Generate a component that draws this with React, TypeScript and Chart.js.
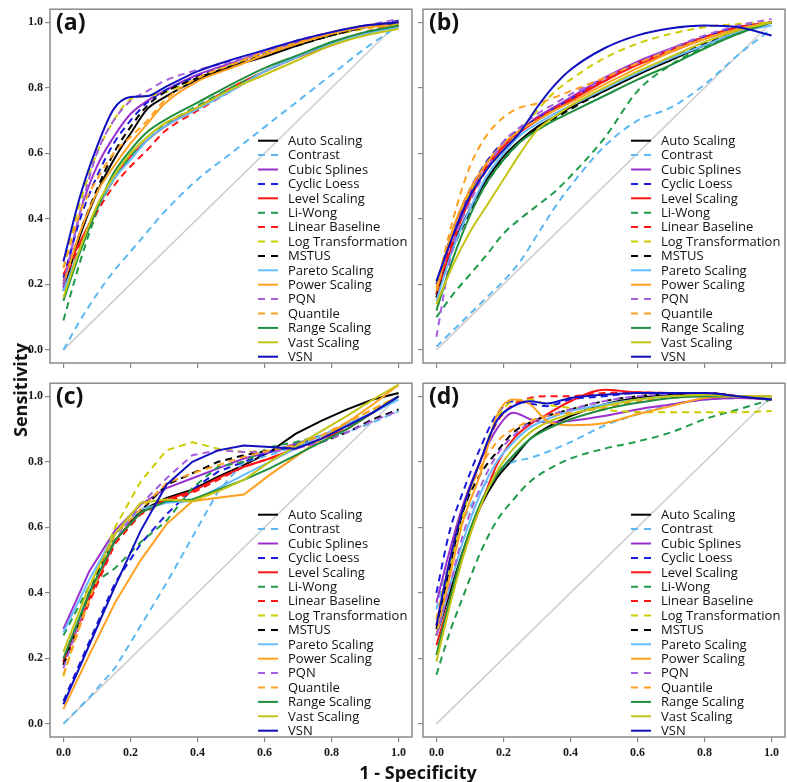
import React, { useEffect, useRef } from 'react';
import { Chart, registerables } from 'chart.js';
Chart.register(...registerables);

const NAMES = ['Auto Scaling', 'Contrast', 'Cubic Splines', 'Cyclic Loess', 'Level Scaling', 'Li-Wong', 'Linear Baseline', 'Log Transformation', 'MSTUS', 'Pareto Scaling', 'Power Scaling', 'PQN', 'Quantile', 'Range Scaling', 'Vast Scaling', 'VSN'];
const COLORS = ['#000000', '#5cb8f2', '#9b30d0', '#1a1ae0', '#ff1414', '#1f9a4a', '#ff1414', '#cccc00', '#000000', '#66bbff', '#ffa020', '#a560e0', '#ffa020', '#1f8f3f', '#c4c414', '#1010c0'];
const DASHED = [false, true, false, true, false, true, true, true, true, false, false, true, true, false, false, false];

const TICKS = [0, 0.2, 0.4, 0.6, 0.8, 1.0];

// Panel (a)
const xA = [0, 0.05, 0.1, 0.15, 0.2, 0.25, 0.3, 0.4, 0.5, 0.6, 0.7, 0.8, 0.9, 1.0];
const yA: number[][] = [
  [0.18, 0.35, 0.48, 0.58, 0.66, 0.735, 0.77, 0.825, 0.865, 0.895, 0.93, 0.96, 0.985, 1.0],
  [0.0, 0.09, 0.17, 0.24, 0.30, 0.36, 0.42, 0.52, 0.60, 0.68, 0.76, 0.84, 0.92, 0.99],
  [0.19, 0.42, 0.56, 0.65, 0.72, 0.76, 0.79, 0.84, 0.875, 0.91, 0.94, 0.965, 0.985, 1.0],
  [0.22, 0.40, 0.53, 0.63, 0.70, 0.755, 0.79, 0.835, 0.87, 0.905, 0.935, 0.965, 0.985, 1.005],
  [0.23, 0.33, 0.43, 0.52, 0.59, 0.64, 0.68, 0.74, 0.80, 0.85, 0.895, 0.93, 0.965, 0.99],
  [0.09, 0.27, 0.42, 0.52, 0.59, 0.64, 0.685, 0.745, 0.80, 0.85, 0.895, 0.935, 0.965, 0.99],
  [0.21, 0.32, 0.42, 0.50, 0.56, 0.61, 0.665, 0.73, 0.79, 0.85, 0.895, 0.935, 0.97, 0.995],
  [0.25, 0.45, 0.60, 0.70, 0.765, 0.775, 0.785, 0.83, 0.87, 0.905, 0.935, 0.96, 0.98, 0.995],
  [0.20, 0.36, 0.49, 0.60, 0.68, 0.745, 0.785, 0.83, 0.865, 0.90, 0.93, 0.96, 0.985, 1.0],
  [0.18, 0.31, 0.43, 0.52, 0.58, 0.64, 0.68, 0.735, 0.79, 0.85, 0.895, 0.935, 0.965, 0.985],
  [0.20, 0.36, 0.48, 0.56, 0.63, 0.69, 0.75, 0.82, 0.86, 0.90, 0.935, 0.965, 0.985, 0.99],
  [0.20, 0.42, 0.60, 0.70, 0.76, 0.79, 0.82, 0.855, 0.88, 0.91, 0.945, 0.97, 0.99, 1.01],
  [0.25, 0.42, 0.52, 0.60, 0.65, 0.70, 0.76, 0.83, 0.87, 0.91, 0.94, 0.97, 0.99, 1.0],
  [0.15, 0.30, 0.43, 0.54, 0.61, 0.665, 0.70, 0.755, 0.81, 0.86, 0.90, 0.94, 0.97, 0.99],
  [0.16, 0.31, 0.44, 0.53, 0.60, 0.65, 0.69, 0.74, 0.795, 0.84, 0.885, 0.93, 0.96, 0.98],
  [0.27, 0.47, 0.62, 0.735, 0.772, 0.775, 0.80, 0.85, 0.885, 0.915, 0.945, 0.97, 0.99, 1.0],
];

// Panel (b)
const xB = [0, 0.05, 0.1, 0.15, 0.2, 0.25, 0.3, 0.35, 0.4, 0.5, 0.6, 0.7, 0.8, 0.9, 1.0];
const yB: number[][] = [
  [0.17, 0.32, 0.43, 0.52, 0.59, 0.64, 0.68, 0.71, 0.74, 0.79, 0.84, 0.885, 0.93, 0.97, 1.0],
  [0.01, 0.06, 0.11, 0.16, 0.21, 0.27, 0.35, 0.43, 0.50, 0.62, 0.70, 0.74, 0.81, 0.90, 0.98],
  [0.17, 0.36, 0.48, 0.57, 0.63, 0.67, 0.71, 0.74, 0.77, 0.83, 0.88, 0.92, 0.955, 0.985, 1.0],
  [0.20, 0.37, 0.49, 0.575, 0.635, 0.675, 0.705, 0.735, 0.765, 0.82, 0.875, 0.915, 0.955, 0.985, 1.0],
  [0.16, 0.33, 0.46, 0.555, 0.62, 0.665, 0.70, 0.73, 0.76, 0.82, 0.87, 0.91, 0.95, 0.98, 1.0],
  [0.10, 0.17, 0.23, 0.29, 0.355, 0.40, 0.44, 0.48, 0.53, 0.645, 0.79, 0.87, 0.925, 0.965, 1.0],
  [0.17, 0.34, 0.465, 0.56, 0.625, 0.67, 0.705, 0.735, 0.765, 0.825, 0.875, 0.915, 0.955, 0.985, 1.0],
  [0.18, 0.37, 0.48, 0.55, 0.61, 0.67, 0.73, 0.785, 0.825, 0.89, 0.935, 0.965, 0.985, 0.995, 1.0],
  [0.16, 0.31, 0.42, 0.51, 0.58, 0.635, 0.675, 0.705, 0.735, 0.79, 0.84, 0.89, 0.935, 0.975, 1.0],
  [0.15, 0.31, 0.43, 0.53, 0.60, 0.655, 0.69, 0.72, 0.745, 0.795, 0.845, 0.89, 0.93, 0.97, 0.99],
  [0.18, 0.37, 0.49, 0.57, 0.63, 0.67, 0.70, 0.73, 0.755, 0.81, 0.86, 0.91, 0.95, 0.98, 1.0],
  [0.04, 0.32, 0.45, 0.55, 0.635, 0.68, 0.72, 0.75, 0.78, 0.83, 0.875, 0.92, 0.96, 0.99, 1.01],
  [0.19, 0.40, 0.56, 0.655, 0.71, 0.74, 0.752, 0.77, 0.79, 0.83, 0.875, 0.915, 0.95, 0.98, 1.0],
  [0.12, 0.28, 0.41, 0.51, 0.58, 0.635, 0.67, 0.70, 0.725, 0.775, 0.825, 0.87, 0.92, 0.965, 1.0],
  [0.14, 0.26, 0.36, 0.44, 0.52, 0.60, 0.67, 0.71, 0.745, 0.80, 0.85, 0.895, 0.94, 0.975, 1.0],
  [0.21, 0.35, 0.47, 0.55, 0.61, 0.665, 0.74, 0.805, 0.855, 0.92, 0.96, 0.982, 0.99, 0.985, 0.96],
];

// Panel (c)
const xC = [0, 1 / 13, 2 / 13, 3 / 13, 4 / 13, 5 / 13, 6 / 13, 7 / 13, 8 / 13, 9 / 13, 10 / 13, 11 / 13, 12 / 13, 1];
const yC: number[][] = [
  [0.19, 0.39, 0.56, 0.65, 0.69, 0.715, 0.755, 0.79, 0.83, 0.885, 0.925, 0.96, 0.99, 1.01],
  [0.0, 0.08, 0.17, 0.30, 0.43, 0.57, 0.71, 0.80, 0.82, 0.85, 0.87, 0.89, 0.92, 0.955],
  [0.29, 0.465, 0.59, 0.67, 0.72, 0.75, 0.78, 0.81, 0.83, 0.855, 0.88, 0.91, 0.95, 1.0],
  [0.07, 0.25, 0.43, 0.55, 0.64, 0.715, 0.77, 0.80, 0.83, 0.85, 0.88, 0.91, 0.95, 1.0],
  [0.19, 0.38, 0.56, 0.645, 0.685, 0.71, 0.75, 0.785, 0.81, 0.84, 0.87, 0.90, 0.95, 1.0],
  [0.27, 0.42, 0.475, 0.555, 0.62, 0.72, 0.785, 0.80, 0.845, 0.86, 0.88, 0.91, 0.95, 1.0],
  [0.18, 0.37, 0.55, 0.64, 0.68, 0.705, 0.745, 0.785, 0.81, 0.84, 0.87, 0.91, 0.95, 1.0],
  [0.145, 0.40, 0.60, 0.74, 0.835, 0.86, 0.84, 0.83, 0.835, 0.85, 0.88, 0.92, 0.96, 1.0],
  [0.18, 0.40, 0.58, 0.65, 0.73, 0.765, 0.80, 0.82, 0.835, 0.845, 0.86, 0.89, 0.93, 0.96],
  [0.28, 0.44, 0.58, 0.655, 0.675, 0.68, 0.72, 0.76, 0.80, 0.84, 0.88, 0.915, 0.95, 0.99],
  [0.045, 0.21, 0.37, 0.50, 0.61, 0.68, 0.69, 0.70, 0.76, 0.815, 0.87, 0.92, 0.975, 1.035],
  [0.17, 0.40, 0.56, 0.67, 0.75, 0.82, 0.835, 0.83, 0.83, 0.84, 0.86, 0.89, 0.925, 0.955],
  [0.15, 0.38, 0.58, 0.655, 0.735, 0.765, 0.79, 0.815, 0.835, 0.85, 0.88, 0.92, 0.96, 1.0],
  [0.20, 0.40, 0.56, 0.645, 0.68, 0.685, 0.715, 0.745, 0.78, 0.82, 0.86, 0.90, 0.95, 1.0],
  [0.22, 0.42, 0.58, 0.675, 0.685, 0.68, 0.71, 0.745, 0.80, 0.847, 0.894, 0.94, 0.99, 1.036],
  [0.06, 0.24, 0.42, 0.59, 0.73, 0.80, 0.835, 0.85, 0.845, 0.84, 0.87, 0.91, 0.95, 1.0],
];

// Panel (d)
const xD = [0, 0.04, 0.08, 0.13, 0.18, 0.23, 0.28, 0.33, 0.4, 0.5, 0.6, 0.7, 0.8, 0.9, 1.0];
const yD: number[][] = [
  [0.27, 0.40, 0.53, 0.66, 0.75, 0.81, 0.87, 0.905, 0.94, 0.975, 0.995, 1.005, 1.01, 1.0, 0.99],
  [0.35, 0.50, 0.62, 0.71, 0.77, 0.80, 0.812, 0.83, 0.86, 0.91, 0.945, 0.975, 0.99, 0.995, 1.0],
  [0.37, 0.53, 0.67, 0.80, 0.90, 0.95, 0.93, 0.92, 0.925, 0.94, 0.96, 0.975, 0.99, 0.995, 0.99],
  [0.40, 0.59, 0.71, 0.84, 0.945, 0.985, 0.978, 0.97, 0.99, 1.0, 1.01, 1.01, 1.01, 1.0, 0.99],
  [0.24, 0.38, 0.52, 0.66, 0.79, 0.87, 0.915, 0.945, 0.985, 1.02, 1.012, 1.01, 1.01, 1.0, 0.99],
  [0.15, 0.28, 0.39, 0.52, 0.62, 0.685, 0.74, 0.775, 0.81, 0.84, 0.862, 0.89, 0.93, 0.96, 0.99],
  [0.30, 0.50, 0.66, 0.80, 0.92, 0.975, 0.995, 1.0, 1.0, 1.01, 1.012, 1.01, 1.01, 1.0, 0.99],
  [0.27, 0.47, 0.64, 0.80, 0.93, 0.985, 0.99, 0.975, 0.965, 0.958, 0.952, 0.951, 0.951, 0.951, 0.955],
  [0.29, 0.48, 0.65, 0.76, 0.83, 0.89, 0.92, 0.94, 0.96, 0.985, 1.0, 1.008, 1.01, 1.0, 0.99],
  [0.27, 0.42, 0.56, 0.70, 0.80, 0.86, 0.905, 0.93, 0.955, 0.975, 0.99, 1.0, 1.0, 1.0, 1.0],
  [0.27, 0.45, 0.62, 0.76, 0.94, 0.99, 0.975, 0.925, 0.912, 0.918, 0.945, 0.97, 0.995, 1.0, 1.0],
  [0.27, 0.42, 0.58, 0.72, 0.82, 0.88, 0.92, 0.94, 0.96, 0.985, 1.0, 1.008, 1.01, 1.0, 0.99],
  [0.32, 0.50, 0.66, 0.78, 0.86, 0.90, 0.925, 0.94, 0.95, 0.965, 0.985, 0.995, 1.0, 1.0, 1.0],
  [0.21, 0.38, 0.53, 0.67, 0.76, 0.82, 0.87, 0.90, 0.93, 0.96, 0.98, 0.995, 1.0, 1.0, 0.99],
  [0.19, 0.36, 0.51, 0.66, 0.77, 0.84, 0.89, 0.92, 0.945, 0.97, 0.99, 1.0, 1.005, 1.0, 1.0],
  [0.30, 0.50, 0.66, 0.80, 0.925, 0.97, 0.985, 0.978, 0.995, 1.005, 1.01, 1.01, 1.01, 1.0, 0.99],
];

const AREA_W = 362;
const AREA_H = 361;
const Y_AXIS_W = 50;
const X_AXIS_H = 40;
const PAD_T = 2;
const PAD_R = 2;

type PanelProps = {
  tag: string;
  left: number;
  top: number;
  xs: number[];
  ys: number[][];
  smooth: boolean;
  xLabels: boolean;
  yLabels: boolean;
};

function Panel(p: PanelProps) {
  const ref = useRef<HTMLCanvasElement>(null);
  useEffect(() => {
    if (!ref.current) return;
    const datasets: any[] = p.ys.map((ys, i) => ({
      label: NAMES[i],
      data: p.xs.map((x, j) => ({ x, y: ys[j] })),
      borderColor: COLORS[i],
      backgroundColor: COLORS[i],
      borderWidth: 2,
      borderDash: DASHED[i] ? [7, 5] : [],
      pointRadius: 0,
      fill: false,
      tension: 0,
      cubicInterpolationMode: p.smooth ? 'monotone' : 'default',
      order: 20 - i,
    }));
    datasets.push({
      label: 'chance',
      data: [{ x: 0, y: 0 }, { x: 1, y: 1 }],
      borderColor: '#cdcdcd',
      borderWidth: 1.5,
      pointRadius: 0,
      fill: false,
      order: 100,
    });

    const framePlugin = {
      id: 'frameLegend',
      afterDatasetsDraw(chart: any) {
        const { ctx, chartArea } = chart;
        ctx.save();
        ctx.strokeStyle = '#8a8a8a';
        ctx.lineWidth = 1.5;
        ctx.setLineDash([]);
        ctx.strokeRect(chartArea.left, chartArea.top, chartArea.right - chartArea.left, chartArea.bottom - chartArea.top);
        ctx.fillStyle = '#111';
        ctx.font = 'bold 23px "Open Sans", "DejaVu Sans", sans-serif';
        ctx.textBaseline = 'top';
        ctx.textAlign = 'left';
        ctx.fillText(p.tag, chartArea.left + 6, chartArea.top + 3);
        const lx = chartArea.left + 208;
        const ly0 = chartArea.top + 131.5;
        const step = 14.4;
        ctx.font = '13px "Open Sans", "DejaVu Sans", sans-serif';
        ctx.textBaseline = 'middle';
        NAMES.forEach((n, i) => {
          const y = ly0 + i * step;
          ctx.beginPath();
          ctx.setLineDash(DASHED[i] ? [7, 6] : []);
          ctx.strokeStyle = COLORS[i];
          ctx.lineWidth = 2;
          ctx.moveTo(lx, y);
          ctx.lineTo(lx + 20, y);
          ctx.stroke();
          ctx.setLineDash([]);
          ctx.fillStyle = '#111';
          ctx.fillText(n, lx + 30, y + 0.5);
        });
        ctx.restore();
      },
    };

    const tickFont = { family: '"Liberation Serif", "Times New Roman", serif', size: 12, weight: 'bold' as const };
    const setTicks = (scale: any) => {
      scale.ticks = TICKS.map((v) => ({ value: v }));
    };

    const chart = new Chart(ref.current, {
      type: 'line',
      data: { datasets },
      plugins: [framePlugin],
      options: {
        animation: false,
        responsive: false,
        events: [],
        layout: { padding: { top: PAD_T, right: PAD_R, left: 0, bottom: 0 }, autoPadding: false } as any,
        plugins: { legend: { display: false }, tooltip: { enabled: false } },
        scales: {
          x: {
            type: 'linear',
            min: -0.04,
            max: 1.04,
            afterBuildTicks: setTicks,
            afterFit: (s: any) => { s.height = X_AXIS_H; },
            border: { display: false },
            grid: { drawOnChartArea: false, drawTicks: true, tickLength: 5, color: '#8a8a8a', lineWidth: 1.2 },
            ticks: {
              display: true,
              padding: 4,
              maxRotation: 0,
              autoSkip: false,
              color: p.xLabels ? '#1a1a1a' : 'rgba(0,0,0,0)',
              font: tickFont,
              callback: (v: any) => Number(v).toFixed(1),
            },
          },
          y: {
            type: 'linear',
            min: -0.04,
            max: 1.04,
            afterBuildTicks: setTicks,
            afterFit: (s: any) => { s.width = Y_AXIS_W; },
            border: { display: false },
            grid: { drawOnChartArea: false, drawTicks: true, tickLength: 5, color: '#8a8a8a', lineWidth: 1.2 },
            ticks: {
              display: true,
              padding: 2,
              autoSkip: false,
              color: p.yLabels ? '#1a1a1a' : 'rgba(0,0,0,0)',
              font: tickFont,
              callback: (v: any) => Number(v).toFixed(1),
            },
          },
        },
      } as any,
    });
    return () => chart.destroy();
  }, []);

  const W = Y_AXIS_W + AREA_W + PAD_R;
  const H = PAD_T + AREA_H + X_AXIS_H;
  return (
    <canvas
      ref={ref}
      width={W}
      height={H}
      style={{ position: 'absolute', left: p.left - Y_AXIS_W, top: p.top - PAD_T, width: W, height: H }}
    />
  );
}

export default function App() {
  return (
    <div style={{ position: 'absolute', left: 0, top: 0, width: 787, height: 782, background: '#fff', overflow: 'hidden' }}>
      <Panel tag="(a)" left={50} top={2} xs={xA} ys={yA} smooth={true} xLabels={false} yLabels={true} />
      <Panel tag="(b)" left={423} top={2} xs={xB} ys={yB} smooth={true} xLabels={false} yLabels={false} />
      <Panel tag="(c)" left={50} top={376} xs={xC} ys={yC} smooth={false} xLabels={true} yLabels={true} />
      <Panel tag="(d)" left={423} top={376} xs={xD} ys={yD} smooth={true} xLabels={true} yLabels={false} />
      <div
        style={{
          position: 'absolute',
          left: 20,
          top: 390,
          transform: 'translate(-50%, -50%) rotate(-90deg)',
          font: 'bold 18px "Open Sans", "DejaVu Sans", sans-serif',
          color: '#111',
          whiteSpace: 'nowrap',
        }}
      >
        Sensitivity
      </div>
      <div
        style={{
          position: 'absolute',
          left: 418,
          top: 772,
          transform: 'translate(-50%, -50%)',
          font: 'bold 18px "Open Sans", "DejaVu Sans", sans-serif',
          color: '#111',
          whiteSpace: 'nowrap',
        }}
      >
        1 - Specificity
      </div>
    </div>
  );
}
